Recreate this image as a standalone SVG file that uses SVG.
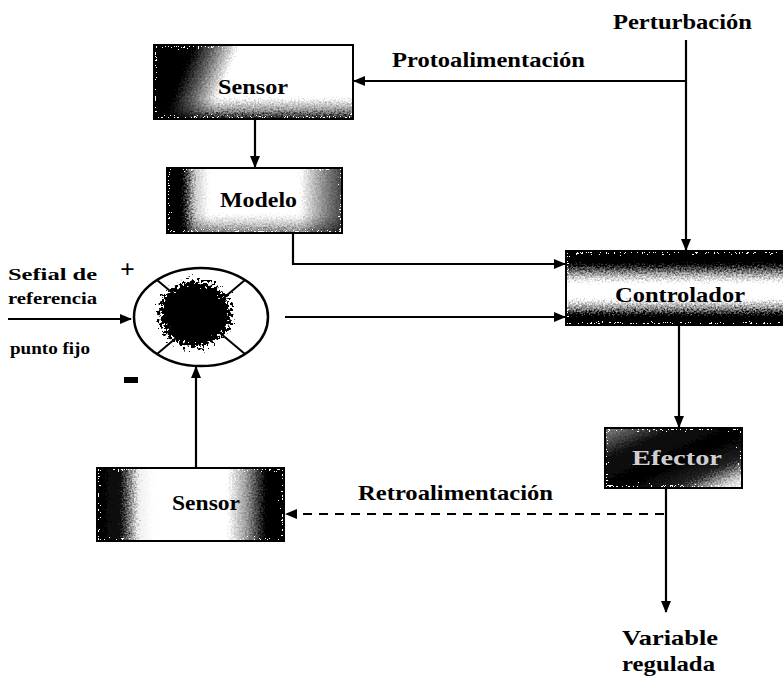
<svg xmlns="http://www.w3.org/2000/svg" width="783" height="683" viewBox="0 0 783 683">
<style>
.t{font-family:"Liberation Serif","Times New Roman",serif;font-weight:bold;font-size:22px;fill:#000}
.s{font-size:17px}
.box{fill:none;stroke:#000;stroke-width:2}
.ln{fill:none;stroke:#000;stroke-width:2.2}
.dash{stroke-dasharray:9 7}
</style>
<defs>
<marker id="ah" viewBox="0 0 12 10" refX="11" refY="5" markerWidth="12" markerHeight="10" markerUnits="userSpaceOnUse" orient="auto">
<path d="M0,0 L12,5 L0,10 Z" fill="#000"/>
</marker>
<filter id="grain" x="0" y="0" width="1" height="1">
<feTurbulence type="fractalNoise" baseFrequency="0.55" numOctaves="2" seed="4" result="n"/>
<feDisplacementMap in="SourceGraphic" in2="n" scale="16" xChannelSelector="R" yChannelSelector="G"/>
</filter>
<filter id="blobf" x="-0.3" y="-0.3" width="1.6" height="1.6">
<feTurbulence type="fractalNoise" baseFrequency="0.35" numOctaves="3" seed="7" result="n"/>
<feDisplacementMap in="SourceGraphic" in2="n" scale="22" xChannelSelector="R" yChannelSelector="G"/>
</filter>
<linearGradient id="gSensorTop" x1="0" y1="0" x2="1" y2="0.15">
<stop offset="0" stop-color="#000"/>
<stop offset="0.2" stop-color="#000"/>
<stop offset="0.3" stop-color="#666"/>
<stop offset="0.42" stop-color="#fff"/>
<stop offset="1" stop-color="#fff"/>
</linearGradient>
<linearGradient id="gBottomEdge" x1="0" y1="0" x2="0" y2="1">
<stop offset="0.72" stop-color="#000" stop-opacity="0"/>
<stop offset="0.88" stop-color="#000" stop-opacity="0.4"/>
<stop offset="1" stop-color="#000" stop-opacity="0.95"/>
</linearGradient>
<linearGradient id="gModelo" x1="0" y1="0" x2="1" y2="0">
<stop offset="0" stop-color="#000"/>
<stop offset="0.09" stop-color="#000"/>
<stop offset="0.16" stop-color="#ccc"/>
<stop offset="0.24" stop-color="#fff"/>
<stop offset="0.76" stop-color="#fff"/>
<stop offset="0.9" stop-color="#888"/>
<stop offset="1" stop-color="#444"/>
</linearGradient>
<linearGradient id="gCtrl" x1="0" y1="0" x2="0" y2="1">
<stop offset="0" stop-color="#000"/>
<stop offset="0.18" stop-color="#000"/>
<stop offset="0.32" stop-color="#aaa"/>
<stop offset="0.42" stop-color="#fff"/>
<stop offset="0.66" stop-color="#fff"/>
<stop offset="0.78" stop-color="#888"/>
<stop offset="0.86" stop-color="#000"/>
<stop offset="1" stop-color="#000"/>
</linearGradient>
<linearGradient id="gEfector" x1="0" y1="0" x2="1" y2="1">
<stop offset="0" stop-color="#888"/>
<stop offset="0.25" stop-color="#111"/>
<stop offset="0.55" stop-color="#000"/>
<stop offset="0.75" stop-color="#222"/>
<stop offset="0.9" stop-color="#ccc"/>
<stop offset="1" stop-color="#fff"/>
</linearGradient>
<linearGradient id="gSensorBot" x1="0" y1="0" x2="1" y2="0">
<stop offset="0" stop-color="#000"/>
<stop offset="0.13" stop-color="#111"/>
<stop offset="0.22" stop-color="#eee"/>
<stop offset="0.3" stop-color="#fff"/>
<stop offset="0.7" stop-color="#fff"/>
<stop offset="0.8" stop-color="#999"/>
<stop offset="0.9" stop-color="#000"/>
<stop offset="1" stop-color="#000"/>
</linearGradient>
</defs>

<g id="connectors">
<line class="ln" x1="686" y1="40" x2="686" y2="250" marker-end="url(#ah)"/>
<line class="ln" x1="686" y1="81" x2="354" y2="81" marker-end="url(#ah)"/>
<line class="ln" x1="255" y1="119" x2="255" y2="167" marker-end="url(#ah)"/>
<polyline class="ln" points="293,233 293,264 565,264" marker-end="url(#ah)"/>
<line class="ln" x1="285" y1="317" x2="565" y2="317" marker-end="url(#ah)"/>
<line class="ln" x1="8" y1="319" x2="131" y2="319" marker-end="url(#ah)"/>
<line class="ln" x1="196" y1="468" x2="196" y2="367" marker-end="url(#ah)"/>
<line class="ln" x1="679" y1="325" x2="679" y2="427" marker-end="url(#ah)"/>
<line class="ln" x1="666" y1="488" x2="666" y2="612" marker-end="url(#ah)"/>
<line class="ln dash" x1="664" y1="514" x2="286" y2="514" marker-end="url(#ah)"/>
</g>

<g id="perturbacion"><text class="t" x="613" y="29" textLength="139" lengthAdjust="spacingAndGlyphs">Perturbación</text></g>
<g id="protoalimentacion"><text class="t" x="392" y="67" textLength="193" lengthAdjust="spacingAndGlyphs">Protoalimentación</text></g>

<g id="sensor-top">
<rect x="154" y="45" width="199" height="74" fill="url(#gSensorTop)" filter="url(#grain)"/>
<rect x="154" y="45" width="199" height="74" fill="url(#gBottomEdge)" filter="url(#grain)"/>
<rect class="box" x="154" y="45" width="199" height="74"/>
<text class="t" x="218" y="94" textLength="70" lengthAdjust="spacingAndGlyphs">Sensor</text>
</g>

<g id="modelo">
<rect x="167" y="168" width="175" height="65" fill="url(#gModelo)" filter="url(#grain)"/>
<rect x="167" y="168" width="175" height="65" fill="url(#gBottomEdge)" opacity="0.6" filter="url(#grain)"/>
<rect class="box" x="167" y="168" width="175" height="65"/>
<text class="t" x="220" y="207" textLength="77" lengthAdjust="spacingAndGlyphs">Modelo</text>
</g>

<g id="controlador">
<rect x="566" y="251" width="220" height="74" fill="url(#gCtrl)" filter="url(#grain)"/>
<rect class="box" x="566" y="251" width="220" height="74"/>
<text class="t" x="615" y="302" textLength="130" lengthAdjust="spacingAndGlyphs">Controlador</text>
</g>

<g id="comparador">
<ellipse cx="201" cy="317" rx="67" ry="49" fill="#fff" stroke="#000" stroke-width="2.5"/>
<line x1="157" y1="280" x2="245" y2="354" stroke="#000" stroke-width="2"/>
<line x1="245" y1="280" x2="157" y2="354" stroke="#000" stroke-width="2"/>
<ellipse cx="195" cy="314" rx="36" ry="33" fill="#000" filter="url(#blobf)"/>
<text class="t" x="120" y="278" style="font-size:26px">+</text>
<rect x="124" y="377" width="14" height="6" fill="#000"/>
</g>

<g id="senal">
<text class="t s" x="8" y="280" textLength="89" lengthAdjust="spacingAndGlyphs">Sefial de</text>
<text class="t s" x="8" y="304" textLength="89" lengthAdjust="spacingAndGlyphs">referencia</text>
<text class="t s" x="10" y="354" textLength="80" lengthAdjust="spacingAndGlyphs">punto fijo</text>
</g>

<g id="efector">
<rect x="605" y="428" width="137" height="60" fill="url(#gEfector)" filter="url(#grain)"/>
<rect class="box" x="605" y="428" width="137" height="60"/>
<text class="t" x="632" y="465" textLength="90" lengthAdjust="spacingAndGlyphs" style="fill:#cfcfcf">Efector</text>
</g>

<g id="sensor-bottom">
<rect x="97" y="468" width="187" height="73" fill="url(#gSensorBot)" filter="url(#grain)"/>
<rect class="box" x="97" y="468" width="187" height="73"/>
<text class="t" x="172" y="510" textLength="68" lengthAdjust="spacingAndGlyphs">Sensor</text>
</g>

<g id="retroalimentacion"><text class="t" x="358" y="500" textLength="195" lengthAdjust="spacingAndGlyphs">Retroalimentación</text></g>

<g id="variable-regulada">
<text class="t" x="622" y="645" textLength="96" lengthAdjust="spacingAndGlyphs">Variable</text>
<text class="t" x="622" y="671" textLength="93" lengthAdjust="spacingAndGlyphs">regulada</text>
</g>
</svg>
